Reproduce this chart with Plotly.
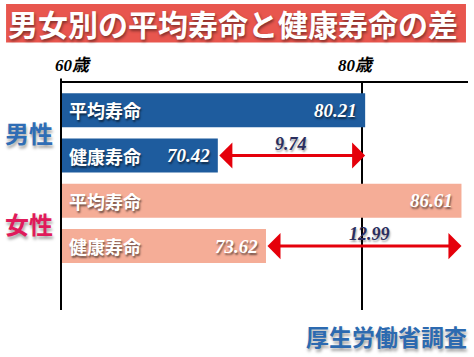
import plotly.graph_objects as go

# ---- data ----
title_text = "男女別の平均寿命と健康寿命の差"
categories = ["男性・平均寿命", "男性・健康寿命", "女性・平均寿命", "女性・健康寿命"]
bar_labels = ["平均寿命", "健康寿命", "平均寿命", "健康寿命"]
ages = [80.21, 70.42, 86.61, 73.62]
value_texts = ["80.21", "70.42", "86.61", "73.62"]
groups = ["男性", "女性"]
gaps = [9.74, 12.99]
gap_texts = ["9.74", "12.99"]
tick_vals = [60, 80]
tick_texts = ["60歳", "80歳"]
source_text = "厚生労働省調査"

# ---- style ----
BLUE_BAR = "#1E5C9E"
SALMON_BAR = "#F5AD97"
bar_colors = [BLUE_BAR, BLUE_BAR, SALMON_BAR, SALMON_BAR]
group_colors = ["#2F6DB5", "#E01A5B"]
CJK = "Noto Sans CJK JP"
SERIF = "Liberation Serif, Noto Sans CJK JP"

fig = go.Figure()
fig.add_trace(go.Bar(
    x=ages, y=categories, orientation="h",
    marker=dict(color=bar_colors, line=dict(width=0)),
    width=0.75, hoverinfo="skip", showlegend=False,
))

ann = []
# bar inner labels and values
for i, (lab, val, vt) in enumerate(zip(bar_labels, ages, value_texts)):
    ann.append(dict(x=tick_vals[0], y=i, xref="x", yref="y", text=lab, showarrow=False,
                    xanchor="left", xshift=6,
                    font=dict(family=CJK, size=18, color="white",
                              weight="bold", shadow="1px 2px 2px rgba(0,0,0,0.55)")))
    ann.append(dict(x=val, y=i, xref="x", yref="y", text=f"<b><i>{vt}</i></b>", showarrow=False,
                    xanchor="right", xshift=-6,
                    font=dict(family=SERIF, size=19, color="white",
                              shadow="1px 2px 2px rgba(0,0,0,0.55)")))

# gap arrows (healthy -> average) and gap labels
for g, (gap, gt) in enumerate(zip(gaps, gap_texts)):
    avg = ages[2 * g]
    healthy = ages[2 * g + 1]
    yi = 2 * g + 1
    ann.append(dict(x=avg, y=yi, ax=healthy, ay=yi, xref="x", yref="y", axref="x", ayref="y",
                    text="", showarrow=True, arrowside="end+start",
                    arrowhead=1, startarrowhead=1, arrowsize=1.45, startarrowsize=1.45,
                    arrowwidth=3, arrowcolor="#E5000B", standoff=0, startstandoff=0))
    ann.append(dict(x=(avg + healthy) / 2, y=yi, xref="x", yref="y", text=f"<b><i>{gt}</i></b>",
                    showarrow=False, yshift=12, xshift=6 * g,
                    font=dict(family=SERIF, size=18, color="#2A2E5E",
                              shadow="1px 2px 2px rgba(0,0,0,0.35)")))

# group labels
for g, (name, col) in enumerate(zip(groups, group_colors)):
    ann.append(dict(x=-0.079, y=2 * g + 0.5, xref="paper", yref="y", text=name, showarrow=False,
                    xanchor="center",
                    font=dict(family=CJK, size=24, color=col, weight="bold",
                              shadow="1px 3px 3px rgba(0,0,0,0.35)")))

# axis tick labels
ann.append(dict(x=tick_vals[0], y=1, xref="x", yref="paper", text=f"<b><i>{tick_texts[0]}</i></b>",
                showarrow=False, xanchor="left", yanchor="middle", xshift=-8, yshift=18,
                font=dict(family=SERIF, size=17, color="black")))
ann.append(dict(x=tick_vals[1], y=1, xref="x", yref="paper", text=f"<b><i>{tick_texts[1]}</i></b>",
                showarrow=False, xanchor="center", yanchor="middle", xshift=-6, yshift=18,
                font=dict(family=SERIF, size=17, color="black")))

# title
ann.append(dict(x=0.423, y=1.264, xref="paper", yref="paper", text=title_text, showarrow=False,
                xanchor="center", yanchor="middle",
                font=dict(family=CJK, size=30, color="white", weight="bold",
                          shadow="1px 2px 3px rgba(0,0,0,0.45)")))
# source
ann.append(dict(x=0.80, y=-0.115, xref="paper", yref="paper", text=source_text, showarrow=False,
                xanchor="center", yanchor="middle",
                font=dict(family=CJK, size=23, color="#2C6AB0", weight="bold",
                          shadow="1px 3px 3px rgba(0,0,0,0.35)")))

shapes = [
    dict(type="rect", xref="paper", yref="paper", x0=-0.135, x1=0.995, y0=1.178, y1=1.348,
         fillcolor="#E8564E", line=dict(width=0), layer="below"),
    dict(type="line", xref="x", yref="paper", x0=tick_vals[1], x1=tick_vals[1], y0=0, y1=1,
         line=dict(color="black", width=2), layer="below"),
    dict(type="line", xref="paper", yref="paper", x0=0, x1=0, y0=0, y1=1.02,
         line=dict(color="black", width=2), layer="above"),
]

fig.update_layout(
    width=474, height=357,
    margin=dict(l=61, r=6, t=83, b=47),
    paper_bgcolor="white", plot_bgcolor="white",
    xaxis=dict(range=[60, 60 + 407 / 15.05], side="top", showline=True, linecolor="black",
               linewidth=2, showgrid=False, zeroline=False, showticklabels=False, ticks=""),
    yaxis=dict(type="category", range=[4.41, -0.6], showline=False, showgrid=False,
               zeroline=False, showticklabels=False, ticks=""),
    annotations=ann, shapes=shapes, bargap=0.25,
)

fig.write_html("out.html")
